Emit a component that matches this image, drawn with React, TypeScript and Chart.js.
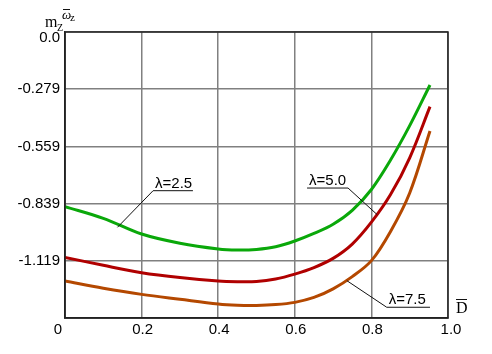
import React, { useEffect, useRef } from "react";
import { Chart, registerables } from "chart.js";

Chart.register(...registerables);

const dValues = [0, 0.1, 0.2, 0.3, 0.4, 0.45, 0.5, 0.55, 0.6, 0.65, 0.7, 0.75, 0.8, 0.85, 0.9, 0.953];
const lambda25 = [-0.854, -0.911, -0.988, -1.033, -1.061, -1.066, -1.063, -1.050, -1.022, -0.985, -0.940, -0.872, -0.770, -0.626, -0.458, -0.259];
const lambda50 = [-1.102, -1.141, -1.177, -1.201, -1.218, -1.221, -1.220, -1.208, -1.184, -1.152, -1.107, -1.037, -0.930, -0.795, -0.615, -0.365];
const lambda75 = [-1.218, -1.253, -1.283, -1.307, -1.330, -1.336, -1.337, -1.333, -1.322, -1.298, -1.256, -1.196, -1.118, -0.975, -0.787, -0.484];

const yTickValues = [0, -0.2797, -0.5594, -0.8391, -1.1188, -1.3985];
const yTickLabels = ["0.0", "-0.279", "-0.559", "-0.839", "-1.119", ""];
const xTickValues = [0, 0.2, 0.4, 0.6, 0.8, 1.0];
const xTickLabels = ["0", "0.2", "0.4", "0.6", "0.8", "1.0"];

const annotations = [
  { text: "λ=2.5", px: 0.137, py: -0.955, ex: 0.23, ey: -0.776, ux: 0.334 },
  { text: "λ=5.0", px: 0.815, py: -0.893, ex: 0.739, ey: -0.763, ux: 0.632 },
  { text: "λ=7.5", px: 0.736, py: -1.216, ex: 0.84, ey: -1.346, ux: 0.953 },
];

const toPoints = (ys: number[]) => dValues.map((x, i) => ({ x, y: ys[i] }));

const SANS = "15px 'Liberation Sans', Arial, sans-serif";
const SERIF = "'Liberation Serif', 'Times New Roman', serif";

const decorPlugin = {
  id: "decor",
  afterDatasetsDraw(chart: any) {
    const { ctx, chartArea, scales } = chart;
    const sx = scales.x;
    const sy = scales.y;
    const L = chartArea.left;
    const T = chartArea.top;
    const R = chartArea.right;
    const B = chartArea.bottom;
    ctx.save();
    // box
    ctx.strokeStyle = "#222";
    ctx.lineWidth = 1.5;
    ctx.strokeRect(L, T, R - L, B - T);

    // tick labels
    ctx.fillStyle = "#000";
    ctx.font = SANS;
    ctx.textBaseline = "middle";
    ctx.textAlign = "right";
    yTickValues.forEach((v, i) => {
      const y = Math.max(sy.getPixelForValue(v), T + 6);
      ctx.fillText(yTickLabels[i], L - 5, y);
    });
    ctx.textBaseline = "top";
    xTickValues.forEach((v, i) => {
      const x = sx.getPixelForValue(v);
      if (i === 0) {
        ctx.textAlign = "right";
        ctx.fillText(xTickLabels[i], x - 3, B + 4);
      } else {
        ctx.textAlign = "center";
        ctx.fillText(xTickLabels[i], x + (i === xTickValues.length - 1 ? 3 : 1), B + 4);
      }
    });

    // annotations
    ctx.lineWidth = 1;
    ctx.strokeStyle = "#111";
    ctx.textBaseline = "alphabetic";
    ctx.textAlign = "left";
    for (const a of annotations) {
      const p1x = sx.getPixelForValue(a.px), p1y = sy.getPixelForValue(a.py);
      const ex = sx.getPixelForValue(a.ex), ey = sy.getPixelForValue(a.ey);
      const ux = sx.getPixelForValue(a.ux);
      ctx.beginPath();
      ctx.moveTo(p1x, p1y);
      ctx.lineTo(ex, ey);
      ctx.lineTo(ux, ey);
      ctx.stroke();
      const left = Math.min(ex, ux);
      ctx.fillText(a.text, left + 2, ey - 3);
    }

    // y axis title  m_Z^{ω̄ z}
    ctx.font = "16px " + SERIF;
    ctx.fillText("m", L - 20, T - 5);
    ctx.font = "10px " + SERIF;
    ctx.fillText("Z", L - 8, T - 1);
    ctx.font = "italic 13px " + SERIF;
    ctx.fillText("ω", L - 3, T - 13);
    ctx.font = "11px " + SERIF;
    ctx.fillText("z", L + 5, T - 11);
    ctx.beginPath();
    ctx.moveTo(L - 2, T - 22.5);
    ctx.lineTo(L + 5, T - 22.5);
    ctx.stroke();

    // x axis title D̄
    ctx.font = "16px " + SERIF;
    ctx.fillText("D", R + 8, B - 5);
    ctx.beginPath();
    ctx.moveTo(R + 8, B - 18.5);
    ctx.lineTo(R + 19, B - 18.5);
    ctx.stroke();
    ctx.restore();
  },
};

export default function App() {
  const ref = useRef<HTMLCanvasElement>(null);
  useEffect(() => {
    if (!ref.current) return;
    const lineDs = (data: number[], color: string) => ({
      data: toPoints(data),
      borderColor: color,
      backgroundColor: color,
      borderWidth: 3,
      pointRadius: 0,
      fill: false,
      tension: 0.35,
    });
    const chart = new Chart(ref.current, {
      type: "line",
      data: {
        datasets: [
          lineDs(lambda25, "#0aa80a"),
          lineDs(lambda50, "#b00000"),
          lineDs(lambda75, "#b44800"),
        ],
      },
      options: {
        animation: false,
        responsive: true,
        maintainAspectRatio: false,
        layout: { padding: { left: 0, right: 36, top: 24, bottom: 0 } },
        plugins: { legend: { display: false }, tooltip: { enabled: false } },
        scales: {
          x: {
            type: "linear",
            min: 0,
            max: 1,
            afterBuildTicks: (axis: any) => {
              axis.ticks = xTickValues.map((v) => ({ value: v }));
            },
            afterFit: (axis: any) => {
              axis.height = 28;
            },
            ticks: { display: false },
            grid: { color: "#808080", lineWidth: 1.5, drawTicks: false },
            border: { color: "#222", width: 1.5 },
          },
          y: {
            type: "linear",
            min: -1.3985,
            max: 0,
            afterBuildTicks: (axis: any) => {
              axis.ticks = yTickValues.map((v) => ({ value: v }));
            },
            afterFit: (axis: any) => {
              axis.width = 57;
            },
            ticks: { display: false },
            grid: { color: "#808080", lineWidth: 1.5, drawTicks: false },
            border: { color: "#222", width: 1.5 },
          },
        },
      },
      plugins: [decorPlugin],
    });
    return () => chart.destroy();
  }, []);
  return (
    <div style={{ width: 476, height: 338, position: "relative" }}>
      <canvas ref={ref} />
    </div>
  );
}
